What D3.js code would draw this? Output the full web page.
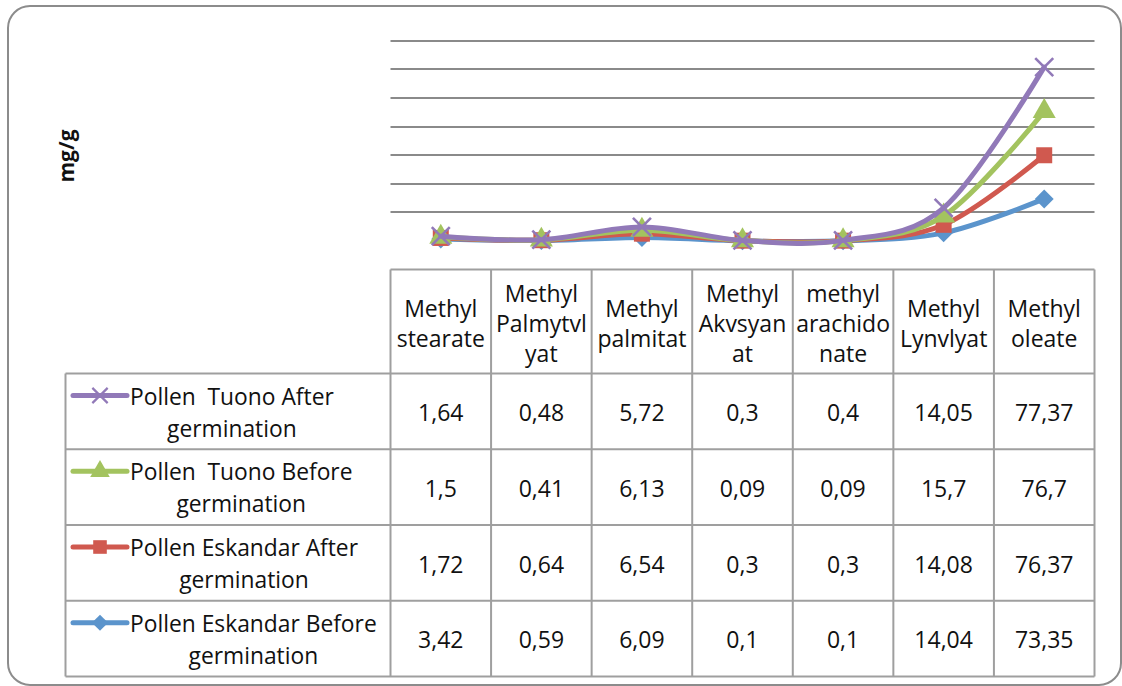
<!DOCTYPE html>
<html>
<head>
<meta charset="utf-8">
<script src="https://cdn.jsdelivr.net/npm/d3@7"></script>
<style>
  html, body { margin: 0; padding: 0; background: #fff; }
  svg { display: block; font-family: "Open Sans", "DejaVu Sans", sans-serif; }
  text { white-space: pre; }
</style>
</head>
<body>
<svg id="chart" width="1122" height="686"></svg>
<script>
// Fatty acid methyl esters (mg/g) measured in pollen before/after germination
const categories = ["Methyl stearate", "Methyl Palmytvlyat", "Methyl palmitat", "Methyl Akvsyanat",
                    "methyl arachidonate", "Methyl Lynvlyat", "Methyl oleate"];
const categoryLines = [
  ["Methyl", "stearate"],
  ["Methyl", "Palmytvl", "yat"],
  ["Methyl", "palmitat"],
  ["Methyl", "Akvsyan", "at"],
  ["methyl", "arachido", "nate"],
  ["Methyl", "Lynvlyat"],
  ["Methyl", "oleate"]
];

// Series in table order (top row first)
const seriesNames = ["Pollen  Tuono After germination", "Pollen  Tuono Before germination",
                     "Pollen Eskandar After germination", "Pollen Eskandar Before germination"];
const seriesLabelLines = [
  ["Pollen  Tuono After", "germination"],
  ["Pollen  Tuono Before", "germination"],
  ["Pollen Eskandar After", "germination"],
  ["Pollen Eskandar Before", "germination"]
];
const tuonoAfter     = [1.64, 0.48, 5.72, 0.3, 0.4, 14.05, 77.37];
const tuonoBefore    = [1.5, 0.41, 6.13, 0.09, 0.09, 15.7, 76.7];
const eskandarAfter  = [1.72, 0.64, 6.54, 0.3, 0.3, 14.08, 76.37];
const eskandarBefore = [3.42, 0.59, 6.09, 0.1, 0.1, 14.04, 73.35];
const seriesValues = [tuonoAfter, tuonoBefore, eskandarAfter, eskandarBefore];
const seriesColors = ["#9179b8", "#a3c35f", "#d0594f", "#5b94cc"];
const seriesMarkers = ["x", "triangle", "square", "diamond"];

// Value axis: gridlines every 50
const yDomain = [-50, 350];
const gridTicks = [50, 100, 150, 200, 250, 300, 350];

const svg = d3.select("#chart");
const gridColor = "#8a8a8a";
const tableColor = "#9f9f9f";

// outer chart frame
svg.append("rect")
  .attr("x", 8).attr("y", 6).attr("width", 1113).attr("height", 679)
  .attr("rx", 22).attr("ry", 22)
  .attr("fill", "#fff").attr("stroke", "#8c8c8c").attr("stroke-width", 2);

const plotLeft = 390.5, plotRight = 1094.5;
const x = d3.scaleBand().domain(categories).range([plotLeft, plotRight]);
const xc = c => x(c) + x.bandwidth() / 2;
const y = d3.scaleLinear().domain(yDomain).range([269.5, 40.7]);

// gridlines (snapped to whole pixels)
svg.append("g").selectAll("line").data(gridTicks).join("line")
  .attr("x1", plotLeft).attr("x2", plotRight)
  .attr("y1", d => Math.round(y(d))).attr("y2", d => Math.round(y(d)))
  .attr("stroke", gridColor).attr("stroke-width", 2);

// stacked series: bottom row of table is stacked first
const stackOrder = [3, 2, 1, 0];
const rows = categories.map((c, i) => {
  const r = { cat: c };
  seriesNames.forEach((s, k) => r[s] = seriesValues[k][i]);
  return r;
});
const stacked = d3.stack().keys(stackOrder.map(k => seriesNames[k]))(rows);

function markerPath(type) {
  if (type === "square") return d3.symbol(d3.symbolSquare, 256)();
  if (type === "diamond") return d3.symbol(d3.symbolSquare, 180)();
  if (type === "triangle") return d3.symbol(d3.symbolTriangle, 230)();
  return null;
}
function drawMarker(g, type, color) {
  if (type === "x") {
    g.append("path").attr("d", "M-9,-9L9,9M-9,9L9,-9")
      .attr("stroke", color).attr("stroke-width", 2.6).attr("fill", "none");
  } else {
    g.append("path").attr("d", markerPath(type))
      .attr("transform", type === "diamond" ? "rotate(45)" : null)
      .attr("fill", color);
  }
}

const line = d3.line()
  .x(d => xc(d.data.cat))
  .y(d => y(d[1]))
  .curve(d3.curveCardinal.tension(0));

const plot = svg.append("g");
stacked.forEach(layer => {
  const k = seriesNames.indexOf(layer.key);
  const color = seriesColors[k];
  plot.append("path").datum(layer)
    .attr("d", line).attr("fill", "none")
    .attr("stroke", color).attr("stroke-width", 5)
    .attr("stroke-linejoin", "round").attr("stroke-linecap", "round");
  layer.forEach(d => {
    const g = plot.append("g").attr("transform", `translate(${xc(d.data.cat)},${y(d[1])})`);
    drawMarker(g, seriesMarkers[k], color);
  });
});

// data table
const headTop = 269.5, headBottom = 373.5, tableBottom = 676.5, legendLeft = 65.5;
const rowBand = d3.scaleBand().domain(seriesNames).range([headBottom, tableBottom]);
const tbl = svg.append("g").attr("stroke", tableColor).attr("stroke-width", 2);
// header horizontals
tbl.append("line").attr("x1", plotLeft).attr("x2", plotRight).attr("y1", headTop).attr("y2", headTop);
// row horizontals
seriesNames.concat(["end"]).forEach((s, i) => {
  const yy = i < seriesNames.length ? rowBand(s) : tableBottom;
  tbl.append("line").attr("x1", legendLeft).attr("x2", plotRight).attr("y1", yy).attr("y2", yy);
});
// verticals
tbl.append("line").attr("x1", legendLeft).attr("x2", legendLeft).attr("y1", headBottom).attr("y2", tableBottom);
categories.forEach(c => {
  tbl.append("line").attr("x1", x(c)).attr("x2", x(c)).attr("y1", headTop).attr("y2", tableBottom);
});
tbl.append("line").attr("x1", plotRight).attr("x2", plotRight).attr("y1", headTop).attr("y2", tableBottom);

const fmt = d3.formatLocale({ decimal: ",", thousands: ".", grouping: [3], currency: ["", ""] }).format("");

// header labels
categories.forEach((c, i) => {
  const lines = categoryLines[i];
  const t = svg.append("text").attr("text-anchor", "middle")
    .attr("font-size", 23).attr("fill", "#111");
  lines.forEach((ln, j) => {
    t.append("tspan").attr("x", xc(c)).attr("y", 332 - (lines.length - 1) * 15 + j * 30).text(ln);
  });
});

// values
seriesNames.forEach((s, k) => {
  const top = rowBand(s);
  categories.forEach((c, i) => {
    svg.append("text").attr("x", xc(c)).attr("y", top + 47.5)
      .attr("text-anchor", "middle").attr("font-size", 23).attr("fill", "#111")
      .text(fmt(seriesValues[k][i]));
  });
});

// legend keys and series names
seriesNames.forEach((s, k) => {
  const top = rowBand(s);
  const color = seriesColors[k];
  svg.append("line").attr("x1", 73).attr("x2", 127)
    .attr("y1", top + 22).attr("y2", top + 22)
    .attr("stroke", color).attr("stroke-width", 5).attr("stroke-linecap", "round");
  const g = svg.append("g").attr("transform", `translate(100,${top + 22}) scale(0.85)`);
  drawMarker(g, seriesMarkers[k], color);
  const t1 = svg.append("text").attr("x", 130).attr("y", top + 31)
    .attr("font-size", 22.8).attr("fill", "#111").text(seriesLabelLines[k][0]);
  const w = t1.node().getComputedTextLength();
  svg.append("text").attr("x", 130 + w / 2).attr("y", top + 63)
    .attr("text-anchor", "middle").attr("font-size", 22.8).attr("fill", "#111")
    .text(seriesLabelLines[k][1]);
});

// value axis title
svg.append("text")
  .attr("transform", "translate(74,156) rotate(-90)")
  .attr("text-anchor", "middle").attr("font-size", 21).attr("font-weight", "bold")
  .attr("fill", "#111").text("mg/g");
</script>
</body>
</html>
